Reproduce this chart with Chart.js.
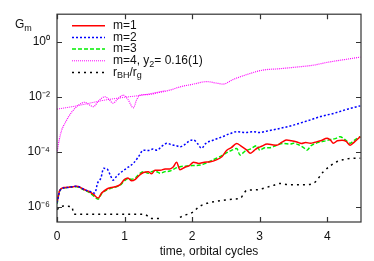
<!DOCTYPE html>
<html><head><meta charset="utf-8">
<script src="https://cdn.jsdelivr.net/npm/chart.js@4.4.0/dist/chart.umd.min.js"></script>
<style>html,body{margin:0;padding:0;background:#fff}#wrap{width:374px;height:261px;position:relative}</style>
</head><body><div id="wrap"><canvas id="c" width="374" height="261"></canvas></div>
<script>
// time (orbital cycles) and log10(G_m) values
const tM1 = [0,0.04,0.1,0.2,0.29,0.35,0.41,0.48,0.54,0.61,0.66,0.74,0.8,0.86,0.93,1.0,1.05,1.1,1.16,1.22,1.28,1.35,1.4,1.45,1.53,1.6,1.67,1.72,1.77,1.82,1.9,1.96,2.02,2.1,2.18,2.27,2.35,2.44,2.51,2.58,2.66,2.72,2.81,2.86,2.92,2.96,3.03,3.11,3.2,3.25,3.33,3.4,3.47,3.55,3.62,3.68,3.75,3.82,3.9,4.0,4.05,4.09,4.15,4.22,4.28,4.34,4.4,4.49];
const logM1 = [-5.85,-5.4,-5.3,-5.28,-5.25,-5.3,-5.38,-5.45,-5.55,-5.68,-5.5,-5.35,-5.3,-5.27,-5.2,-5.0,-4.95,-5.05,-5.0,-4.85,-4.75,-4.72,-4.8,-4.67,-4.67,-4.62,-4.62,-4.55,-4.38,-4.65,-4.55,-4.5,-4.38,-4.42,-4.38,-4.36,-4.3,-4.18,-3.95,-3.85,-3.7,-3.78,-3.94,-4.05,-3.95,-3.87,-3.8,-3.72,-3.75,-3.76,-3.65,-3.57,-3.6,-3.64,-3.7,-3.66,-3.69,-3.65,-3.6,-3.51,-3.58,-3.69,-3.6,-3.58,-3.62,-3.76,-3.65,-3.45];

const tM2 = [0,0.05,0.15,0.29,0.41,0.5,0.56,0.6,0.65,0.69,0.74,0.79,0.83,0.88,0.93,1.0,1.06,1.13,1.2,1.28,1.35,1.42,1.48,1.55,1.63,1.7,1.77,1.82,1.9,1.96,2.02,2.08,2.14,2.2,2.32,2.45,2.55,2.66,2.78,2.9,3.0,3.1,3.3,3.5,3.7,3.9,4.1,4.3,4.49];
const logM2 = [-5.85,-5.38,-5.3,-5.25,-5.38,-5.45,-5.5,-5.14,-4.95,-4.6,-4.62,-4.85,-5.03,-4.9,-4.78,-4.65,-4.55,-4.42,-4.2,-3.94,-3.95,-3.9,-3.94,-3.8,-3.69,-3.75,-3.78,-3.82,-3.72,-3.6,-3.57,-3.7,-3.87,-3.7,-3.57,-3.45,-3.35,-3.27,-3.3,-3.27,-3.3,-3.25,-3.15,-3.03,-2.88,-2.72,-2.6,-2.45,-2.33];

const tM3 = [0,0.04,0.1,0.2,0.29,0.35,0.41,0.48,0.54,0.61,0.66,0.74,0.8,0.86,0.93,1.0,1.05,1.1,1.16,1.22,1.28,1.35,1.4,1.45,1.53,1.6,1.67,1.75,1.82,1.9,2.0,2.12,2.2,2.3,2.41,2.5,2.58,2.66,2.71,2.78,2.86,2.96,3.0,3.08,3.15,3.25,3.35,3.45,3.5,3.58,3.65,3.7,3.76,3.82,3.9,3.98,4.05,4.12,4.19,4.26,4.34,4.4,4.49];
const logM3 = [-5.9,-5.42,-5.32,-5.28,-5.27,-5.32,-5.4,-5.48,-5.6,-5.72,-5.52,-5.38,-5.32,-5.28,-5.22,-5.05,-4.98,-5.0,-4.95,-4.8,-4.72,-4.78,-4.72,-4.7,-4.78,-4.72,-4.7,-4.6,-4.54,-4.52,-4.5,-4.48,-4.42,-4.3,-4.18,-4.05,-3.95,-3.88,-4.12,-3.98,-3.9,-3.78,-3.94,-3.85,-3.85,-3.76,-3.7,-3.72,-3.69,-3.75,-3.85,-3.94,-3.78,-3.7,-3.64,-3.6,-3.55,-3.52,-3.45,-3.55,-3.69,-3.58,-3.45];

const tM4 = [0,0.03,0.07,0.12,0.17,0.22,0.27,0.33,0.41,0.47,0.54,0.6,0.66,0.71,0.77,0.83,0.9,0.98,1.05,1.13,1.18,1.23,1.35,1.5,1.67,1.82,2.0,2.22,2.35,2.46,2.6,2.8,3.05,3.3,3.55,3.8,4.0,4.2,4.49];
const logM4 = [-4.05,-3.6,-3.21,-2.95,-2.73,-2.55,-2.41,-2.28,-2.2,-2.28,-2.36,-2.2,-2.05,-2.0,-2.1,-2.23,-2.08,-1.94,-2.1,-2.4,-2.1,-1.94,-1.92,-1.85,-1.76,-1.64,-1.55,-1.45,-1.5,-1.54,-1.38,-1.2,-1.03,-0.98,-0.92,-0.85,-0.75,-0.67,-0.56];

const tM4b = [0,0.27,0.71,1.0,1.26,1.6];
const logM4b = [-2.45,-2.34,-2.12,-2.02,-1.94,-1.78];

// null = below the plotted range (gap in the curve)
const tBH = [0,0.05,0.1,0.15,0.22,0.25,0.5,0.8,1.0,1.3,1.35,1.4,1.5,1.55,1.62,1.75,1.82,1.9,2.02,2.1,2.22,2.35,2.46,2.6,2.71,2.81,2.95,3.05,3.2,3.3,3.45,3.65,3.8,3.94,4.05,4.14,4.25,4.34,4.49];
const logBH = [-6.1,-6.0,-5.97,-5.98,-6.0,-6.27,-6.27,-6.27,-6.27,-6.27,-6.35,-6.42,-6.42,-6.42,null,null,-6.38,-6.3,-6.18,-6.0,-5.87,-5.8,-5.76,-5.72,-5.69,-5.4,-5.38,-5.33,-5.22,-5.15,-5.2,-5.2,-5.14,-4.73,-4.5,-4.36,-4.28,-4.24,-4.23];

const xTicks = [0,1,2,3,4];
const yTickExp = [-6,-4,-2,0];
const supMap = {'-':'\u207B','0':'\u2070','1':'\u00B9','2':'\u00B2','3':'\u00B3','4':'\u2074','5':'\u2075','6':'\u2076','7':'\u2077','8':'\u2078','9':'\u2079'};

function pts(t, lg){ return t.map((x,i)=>({x:x, y: lg[i]===null ? null : Math.pow(10, lg[i])})); }

const FONT = '"Liberation Sans", Arial, Helvetica, sans-serif';

const legendItems = [
  {parts:[['m=1',0]], color:'#ff0000', dash:[], w:1.5},
  {parts:[['m=2',0]], color:'#0000ff', dash:[2,2], w:1.5},
  {parts:[['m=3',0]], color:'#00ee00', dash:[4,2], w:1.5},
  {parts:[['m=4, y',0],['2',1],['= 0.16(1)',0]], color:'#ff00ff', dash:[1,1], w:1},
  {parts:[['r',0],['BH',1],['/r',0],['g',1]], color:'#000000', dash:[2,4], w:1.5}
];

function drawParts(ctx, parts, x, y, size){
  let cx = x;
  for (const [s, sub] of parts){
    if (sub){ ctx.font = (size*0.75)+'px '+FONT; ctx.fillText(s, cx, y+3.5); }
    else { ctx.font = size+'px '+FONT; ctx.fillText(s, cx, y); }
    cx += ctx.measureText(s).width;
  }
}

const decor = {
  id:'decor',
  afterDraw(chart){
    const ctx = chart.ctx, a = chart.chartArea;
    const xs = chart.scales.x, ys = chart.scales.y;
    ctx.save();
    ctx.strokeStyle = '#333'; ctx.lineWidth = 1.2; ctx.setLineDash([]);
    ctx.strokeRect(a.left, a.top, a.right-a.left, a.bottom-a.top);
    ctx.beginPath();
    for (const v of xTicks){
      const p = Math.round(xs.getPixelForValue(v))+0.5;
      ctx.moveTo(p, a.bottom); ctx.lineTo(p, a.bottom-5);
      ctx.moveTo(p, a.top); ctx.lineTo(p, a.top+5);
    }
    for (const e of yTickExp){
      const p = Math.round(ys.getPixelForValue(Math.pow(10,e)))+0.5;
      ctx.moveTo(a.left, p); ctx.lineTo(a.left+5, p);
      ctx.moveTo(a.right, p); ctx.lineTo(a.right-5, p);
    }
    ctx.stroke();
    // legend
    ctx.textBaseline = 'middle'; ctx.textAlign = 'left'; ctx.fillStyle = '#111';
    legendItems.forEach((it, i)=>{
      const y = 25.7 + i*11.7;
      ctx.strokeStyle = it.color; ctx.lineWidth = it.w; ctx.setLineDash(it.dash);
      ctx.beginPath(); ctx.moveTo(72, y); ctx.lineTo(105, y); ctx.stroke();
      ctx.setLineDash([]);
      ctx.fillStyle = '#111';
      drawParts(ctx, it.parts, 113, y, 12);
    });
    // y title
    drawParts(ctx, [['G',0],['m',1]], 15, 25, 12);
    // x title
    ctx.font = '12px '+FONT; ctx.textAlign = 'center';
    ctx.fillText('time, orbital cycles', (a.left+a.right)/2, 252);
    ctx.restore();
  }
};

const ds = (label, t, lg, color, dash, w) => ({
  label, data: pts(t, lg), borderColor: color, backgroundColor: color,
  borderDash: dash, borderWidth: w, pointRadius: 0, cubicInterpolationMode: 'monotone',
  fill: false, spanGaps: false
});

new Chart(document.getElementById('c'), {
  type: 'line',
  data: { datasets: [
    ds('r_BH/r_g', tBH, logBH, '#000000', [2,4], 1.5),
    ds('m=4 fit', tM4b, logM4b, '#ff00ff', [1,1], 1),
    ds('m=4', tM4, logM4, '#ff00ff', [1,1], 1.2),
    ds('m=2', tM2, logM2, '#0000ff', [2,2], 1.5),
    ds('m=1', tM1, logM1, '#ff0000', [], 1.5),
    ds('m=3', tM3, logM3, '#00ee00', [4,2], 1.5)
  ]},
  options: {
    responsive: false, animation: false, devicePixelRatio: 1,
    layout: { padding: { left: 0, top: 14, right: 13, bottom: 0 } },
    plugins: { legend: { display: false }, tooltip: { enabled: false } },
    scales: {
      x: {
        type: 'linear', min: 0, max: 4.5,
        afterBuildTicks(s){ s.ticks = xTicks.map(v=>({value:v})); },
        afterFit(s){ s.height = 39; },
        grid: { display: false, drawTicks: false }, border: { display: false },
        ticks: { color: '#111', font: { size: 12, family: FONT }, padding: 7, maxRotation: 0 }
      },
      y: {
        type: 'logarithmic', min: Math.pow(10,-6.55), max: 10,
        afterBuildTicks(s){ s.ticks = yTickExp.map(e=>({value:Math.pow(10,e)})); },
        afterFit(s){ s.width = 57; },
        grid: { display: false, drawTicks: false }, border: { display: false },
        ticks: { color: '#111', font: { size: 12, family: FONT }, padding: 7,
          callback(v){ const e = Math.round(Math.log10(v)); return '10' + String(e).split('').map(c=>supMap[c]).join(''); } }
      }
    }
  },
  plugins: [decor]
});
</script></body></html>
